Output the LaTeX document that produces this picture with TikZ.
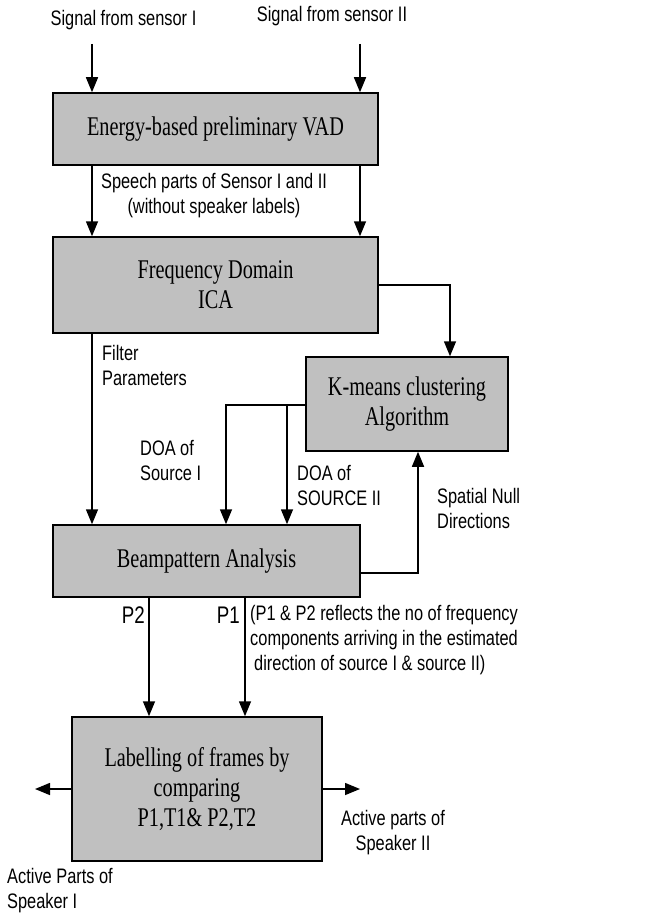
\documentclass[tikz,border=0pt]{standalone}
\usepackage{fontspec}
\setmainfont{Liberation Serif}[FakeStretch=0.75]
\newfontfamily\labelfont{Liberation Sans}[FakeStretch=0.78]
\usetikzlibrary{arrows.meta}
\definecolor{boxgray}{HTML}{C0C0C0}

\begin{document}
\begin{tikzpicture}[x=1pt,y=-1pt,
  block/.style={draw=black,line width=1.5pt,fill=boxgray,align=center,inner sep=0pt,
    font=\fontsize{27}{30}\selectfont},
  lbl/.style={inner sep=0pt,font=\labelfont\fontsize{21}{25}\selectfont},
  flow/.style={line width=1.5pt,-{Triangle[length=15pt,width=12pt]}}]
\useasboundingbox (0,0) rectangle (654,915);
% Processing blocks
\node[block,minimum width=325pt,minimum height=72pt] (vad) at (215.5,129) {Energy-based preliminary VAD};
\node[block,minimum width=325pt,minimum height=96pt] (fd) at (215.5,285) {Frequency Domain\\ICA};
\node[block,minimum width=202pt,minimum height=94pt] (km) at (407,404) {K-means clustering\\Algorithm};
\node[block,minimum width=307pt,minimum height=72pt] (beam) at (206.5,561) {Beampattern Analysis};
\node[block,minimum width=250pt,minimum height=144pt] (lab) at (197,789) {Labelling of frames by\\comparing\\P1,T1\& P2,T2};
% Turning points and free ends
\coordinate (s1) at (92,44);
\coordinate (s2) at (360,44);
\coordinate (kmin) at (450,285);
\coordinate (doa1) at (226,405);
\coordinate (doa2) at (287,405);
\coordinate (null) at (418,573);
\coordinate (p2) at (149,597);
\coordinate (p1) at (245,597);
\coordinate (spk1) at (35,789);
\coordinate (spk2) at (360,789);
% Connectors
\draw[flow] (s1) -- (s1 |- vad.north);
\draw[flow] (s2) -- (s2 |- vad.north);
\draw[flow] (vad.south -| s1) -- (fd.north -| s1);
\draw[flow] (vad.south -| s2) -- (fd.north -| s2);
\draw[flow] (fd.east |- kmin) -- (kmin) -- (kmin |- km.north);
\draw[flow] (fd.south -| s1) -- (beam.north -| s1);
\draw[flow] (km.west |- doa1) -- (doa1) -- (doa1 |- beam.north);
\draw[flow] (doa2) -- (doa2 |- beam.north);
\draw[flow] (beam.east |- null) -- (null) -- (null |- km.south);
\draw[flow] (beam.south -| p2) -- (lab.north -| p2);
\draw[flow] (beam.south -| p1) -- (lab.north -| p1);
\draw[flow] (lab.west) -- (spk1);
\draw[flow] (lab.east) -- (spk2);
% Labels
\node[lbl] (insig1) at (123.5,20) {Signal from sensor I};
\node[lbl] (insig2) at (332,16) {Signal from sensor II};
\node[lbl,align=center] (speech) at (214,196) {Speech parts of Sensor I and II\\(without speaker labels)};
\node[lbl,align=left,anchor=west] (filt) at (102,365) {Filter\\Parameters};
\node[lbl,align=left,anchor=west] (doaone) at (140,460) {DOA of\\Source I};
\node[lbl,align=left,anchor=west] (doatwo) at (297,485) {DOA of\\SOURCE II};
\node[lbl,align=left,anchor=west] (nulldir) at (437,508) {Spatial Null\\Directions};
\node[lbl,anchor=east,font=\labelfont\fontsize{24}{25}\selectfont] (ptwo) at (145,615) {P2};
\node[lbl,anchor=east,font=\labelfont\fontsize{24}{25}\selectfont] (pone) at (240,615) {P1};
\node[lbl,align=left,anchor=west] (note) at (250,640) {(P1 \& P2 reflects the no of frequency\\components arriving in the estimated\\\hspace*{4pt}direction of source I \& source II)};
\node[lbl,align=center] (out2) at (393,833) {Active parts of\\Speaker II};
\node[lbl,align=left,anchor=west] (out1) at (7,891) {Active Parts of\\Speaker I};
\end{tikzpicture}
\end{document}
